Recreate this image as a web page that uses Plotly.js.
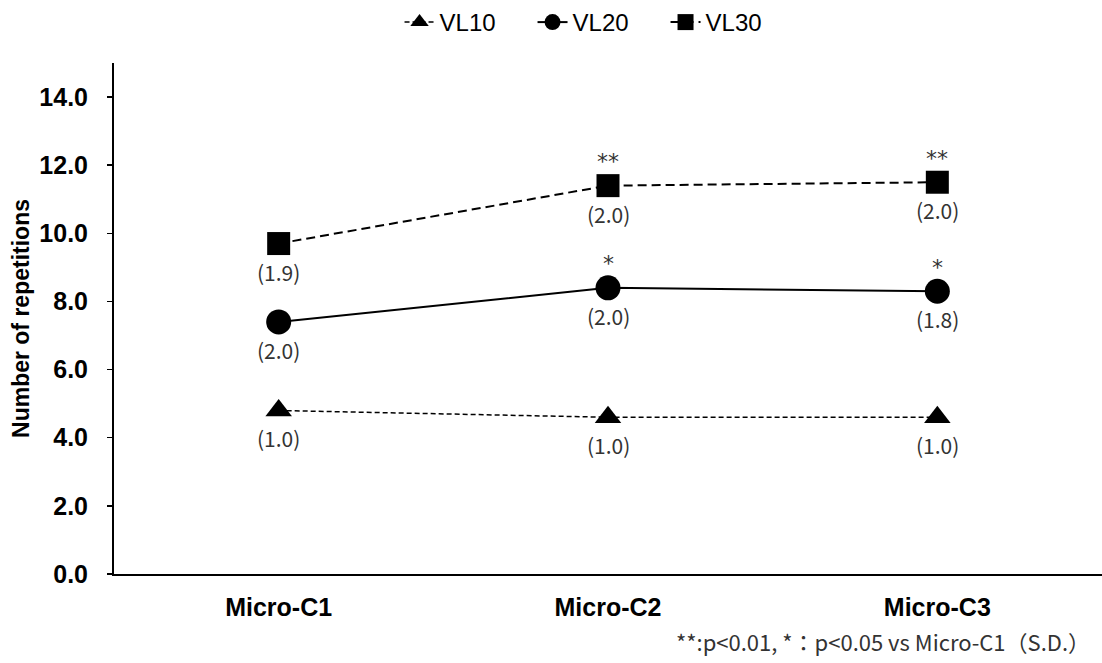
<!DOCTYPE html>
<html>
<head>
<meta charset="utf-8">
<script src="https://cdn.plot.ly/plotly-3.0.1.min.js"></script>
<style>html,body{margin:0;padding:0;background:#fff}#chart{width:1102px;height:663px}</style>
</head>
<body>
<div id="chart"></div>
<script>
const categories = ["Micro-C1", "Micro-C2", "Micro-C3"];
const vl10 = [4.8, 4.6, 4.6];
const vl20 = [7.4, 8.4, 8.3];
const vl30 = [9.7, 11.4, 11.5];
const sd10 = ["(1.0)", "(1.0)", "(1.0)"];
const sd20 = ["(2.0)", "(2.0)", "(1.8)"];
const sd30 = ["(1.9)", "(2.0)", "(2.0)"];
const sig20 = ["", "*", "*"];
const sig30 = ["", "**", "**"];
const yTicks = [0, 2, 4, 6, 8, 10, 12, 14];
const yTickText = ["0.0", "2.0", "4.0", "6.0", "8.0", "10.0", "12.0", "14.0"];

const traces = [
  {name: "VL10", x: categories, y: vl10, type: "scatter", mode: "lines+markers",
   line: {color: "#000", width: 1.5, dash: "5px,3px"},
   marker: {symbol: "triangle-up", size: 23, color: "#000"}},
  {name: "VL20", x: categories, y: vl20, type: "scatter", mode: "lines+markers",
   line: {color: "#000", width: 2}, marker: {symbol: "circle", size: 25, color: "#000"}},
  {name: "VL30", x: categories, y: vl30, type: "scatter", mode: "lines+markers",
   line: {color: "#000", width: 2, dash: "9px,5px"}, marker: {symbol: "square", size: 23, color: "#000"}}
];

const cjk = "Noto Sans CJK JP, sans-serif";
const arial = "Liberation Sans, Arial, sans-serif";
const annotations = [];
function addLabels(vals, sds, sigs) {
  categories.forEach((c, i) => {
    annotations.push({x: c, y: vals[i], text: sds[i], showarrow: false, yshift: -28,
      font: {family: cjk, size: 21, color: "#333"}});
    if (sigs && sigs[i]) {
      annotations.push({x: c, y: vals[i], text: sigs[i], showarrow: false, yshift: 24,
        font: {family: "DejaVu Sans, sans-serif", size: 22, color: "#333"}});
    }
  });
}
addLabels(vl10, sd10, null);
addLabels(vl20, sd20, sig20);
addLabels(vl30, sd30, sig30);
annotations.push({xref: "paper", yref: "paper", x: 1, y: -0.131, xanchor: "right", yanchor: "middle",
  xshift: -10, text: "**:p<0.01, *\uFF1Ap<0.05 vs Micro-C1\uFF08S.D.\uFF09", showarrow: false,
  font: {family: cjk, size: 22, color: "#333"}});

const layout = {
  width: 1102, height: 663,
  margin: {l: 114, r: 0, t: 62, b: 89},
  paper_bgcolor: "#fff", plot_bgcolor: "#fff",
  showlegend: true,
  legend: {orientation: "h", x: 0.289, xanchor: "left", y: 1.08, yanchor: "middle",
    font: {family: arial, size: 24, color: "#000"},
    itemwidth: 30, entrywidth: 88, entrywidthmode: "pixels", traceorder: "normal"},
  xaxis: {type: "category", range: [-0.5, 2.5], showline: true, linecolor: "#000", linewidth: 2,
    showgrid: false, zeroline: false, ticks: "", ticklabelstandoff: 10,
    tickfont: {family: arial, size: 25, color: "#000", weight: "bold"}},
  yaxis: {range: [0, 15], tickvals: yTicks, ticktext: yTickText, showline: true, linecolor: "#000",
    linewidth: 2, showgrid: false, zeroline: false, ticks: "outside", ticklen: 5, tickwidth: 1.5,
    tickcolor: "#000", ticklabelstandoff: 14,
    tickfont: {family: arial, size: 25, color: "#000", weight: "bold"},
    title: {text: "Number of repetitions", standoff: 3,
      font: {family: arial, size: 23, color: "#000", weight: "bold"}}},
  annotations: annotations
};
Plotly.newPlot("chart", traces, layout, {displayModeBar: false, staticPlot: true});
</script>
</body>
</html>
